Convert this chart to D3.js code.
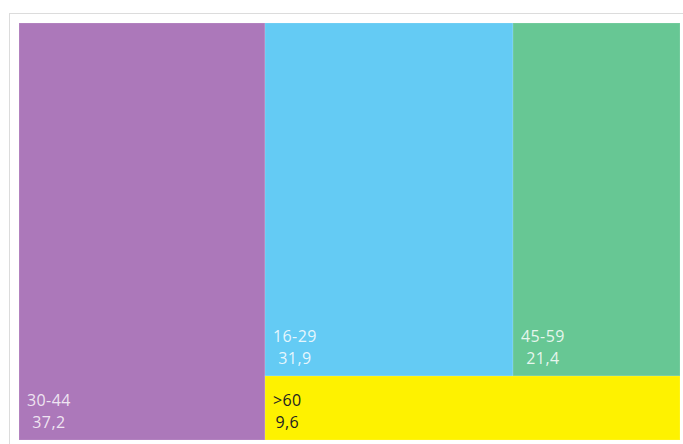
<!DOCTYPE html>
<html>
<head>
<meta charset="utf-8">
<script src="https://cdn.jsdelivr.net/npm/d3@7"></script>
<style>
  html, body { margin: 0; padding: 0; background: #fff; }
  svg { display: block; }
  .label { font-family: "Open Sans", sans-serif; font-size: 16px; letter-spacing: 0.4px; }
</style>
</head>
<body>
<div id="chart"></div>
<script>

var categories = ["30-44", "16-29", "45-59", ">60"];
var values = [37.2, 31.9, 21.4, 9.6];
var colors = ["#AC78BA", "#64CBF4", "#67C794", "#FEF200"];
var textColors = ["#ffffff", "#ffffff", "#ffffff", "#222222"];
var textOpacity = [0.82, 0.85, 0.85, 1];

var svgWidth = 683, svgHeight = 444;

var svg = d3.select('#chart').append('svg')
    .attr('width', svgWidth)
    .attr('height', svgHeight);

// light frame around the visual
svg.append('rect')
    .attr('x', 9.5)
    .attr('y', 13.5)
    .attr('width', 700)
    .attr('height', 500)
    .attr('fill', 'none')
    .attr('stroke', '#dcdcdc');

var leaves = categories.map(function (c, i) {
    return { name: c, value: values[i], color: colors[i], text: textColors[i], op: textOpacity[i] };
});

// layout: first group as a column, then a row of the next two above the last one
var data = {
    children: [
        leaves[0],
        { children: [ { children: [leaves[1], leaves[2]] }, leaves[3] ] }
    ]
};

var root = d3.hierarchy(data)
    .sum(function (d) { return d.children ? 0 : d.value; });

var treemap = d3.treemap()
    .size([661, 417])
    .round(true)
    .tile(function (node, x0, y0, x1, y1) {
        if (node.depth === 1) d3.treemapSlice(node, x0, y0, x1, y1);
        else d3.treemapDice(node, x0, y0, x1, y1);
    });

treemap(root);

var fmt = d3.formatLocale({ decimal: ",", thousands: ".", grouping: [3], currency: ["", ""] }).format(".1f");

var g = svg.append('g')
    .attr('transform', 'translate(19,23)');

var cell = g.selectAll('.cell')
    .data(root.leaves())
    .enter().append('g')
    .attr('class', 'cell')
    .attr('transform', function (d) { return 'translate(' + d.x0 + ',' + d.y0 + ')'; });

cell.append('rect')
    .attr('width', function (d) { return d.x1 - d.x0; })
    .attr('height', function (d) { return d.y1 - d.y0; })
    .attr('fill', function (d) { return d.data.color; })
    .attr('stroke', 'rgba(255,255,255,0.15)')
    .attr('stroke-width', 1);

cell.each(function (d) {
    var h = d.y1 - d.y0;
    var sel = d3.select(this);
    var name = sel.append('text')
        .attr('class', 'label')
        .attr('x', 8)
        .attr('y', h - 34)
        .attr('fill', d.data.text)
        .attr('fill-opacity', d.data.op)
        .text(d.data.name);
    var w = name.node().getComputedTextLength();
    sel.append('text')
        .attr('class', 'label')
        .attr('x', 8 + w / 2)
        .attr('y', h - 12)
        .attr('text-anchor', 'middle')
        .attr('fill', d.data.text)
        .attr('fill-opacity', d.data.op)
        .text(fmt(d.data.value));
});

</script>
</body>
</html>
